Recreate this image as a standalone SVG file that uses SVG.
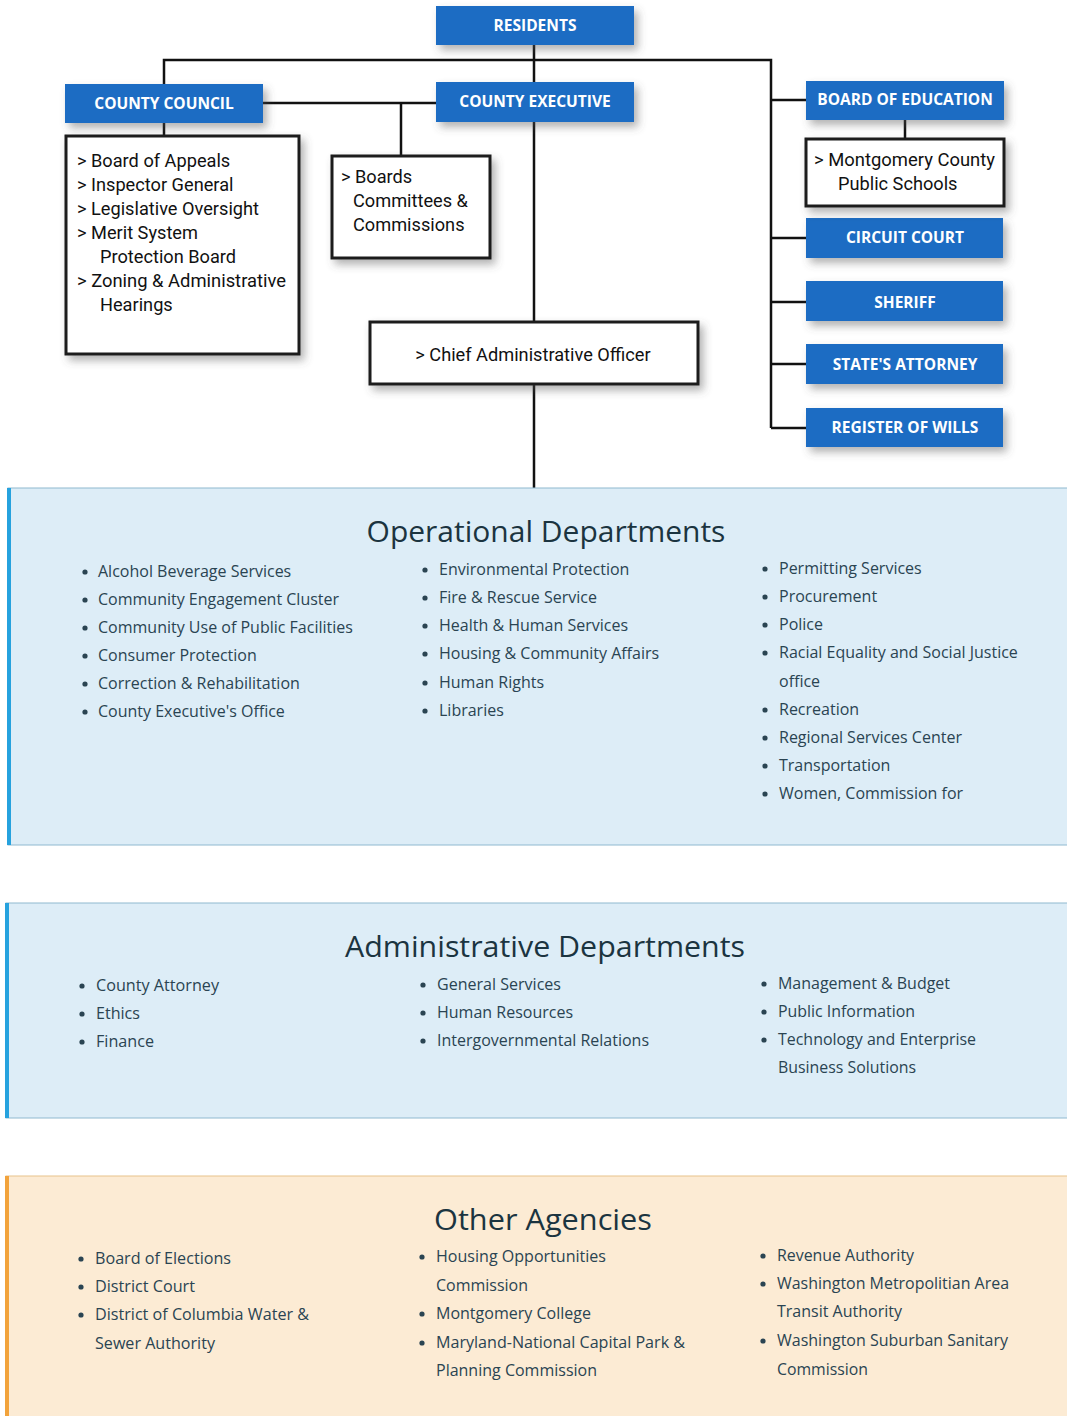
<svg xmlns="http://www.w3.org/2000/svg" width="1067" height="1416" viewBox="0 0 1067 1416">
  <defs>
    <filter id="shadow" x="-10%" y="-20%" width="130%" height="160%">
      <feDropShadow dx="4" dy="5" stdDeviation="4" flood-color="#555" flood-opacity="0.45"/>
    </filter>
  </defs>
  <style>
    .head rect { fill: #1f6cc3; filter: url(#shadow); }
    .head text { fill: #ffffff; font-family: "Open Sans", "Liberation Sans", sans-serif; font-weight: 700; font-size: 15.5px; text-anchor: middle; }
    .list rect { fill: #ffffff; stroke: #1a1a1a; stroke-width: 3; filter: url(#shadow); }
    .list text { fill: #111; font-family: Roboto, "Liberation Sans", sans-serif; font-size: 18.2px; }
    .wire { stroke: #111; stroke-width: 2.5; fill: none; }
    .panel-title { font-family: "Open Sans", "Liberation Sans", sans-serif; font-size: 30px; fill: #1b3440; text-anchor: middle; }
    .item { font-family: "Open Sans", "Liberation Sans", sans-serif; font-size: 16px; fill: #2a4452; }
    .dot { fill: #2a4452; }
  </style>

  <rect width="1067" height="1416" fill="#ffffff"/>

  <!-- connectors -->
  <g id="connectors" class="wire">
    <path d="M534 45 V322 M534 384 V488"/>
    <path d="M164 84 V60 H771 V428"/>
    <path d="M263 103 H436"/>
    <path d="M401 103 V157"/>
    <path d="M164 123 V136"/>
    <path d="M771 100 H806 M771 238 H806 M771 302 H806 M771 364 H806 M771 428 H806"/>
    <path d="M905 120 V139"/>
  </g>

  <!-- header boxes -->
  <g id="residents" class="head"><rect x="436" y="6" width="198" height="39"/><text x="535" y="31">RESIDENTS</text></g>
  <g id="county-council" class="head"><rect x="65" y="84" width="198" height="39"/><text x="164" y="109">COUNTY COUNCIL</text></g>
  <g id="county-executive" class="head"><rect x="436" y="82" width="198" height="40"/><text x="535" y="107">COUNTY EXECUTIVE</text></g>
  <g id="board-of-education" class="head"><rect x="806" y="81" width="198" height="39"/><text x="905" y="105">BOARD OF EDUCATION</text></g>
  <g id="circuit-court" class="head"><rect x="806" y="218" width="197" height="40"/><text x="905" y="243">CIRCUIT COURT</text></g>
  <g id="sheriff" class="head"><rect x="806" y="281" width="197" height="40"/><text x="905" y="308">SHERIFF</text></g>
  <g id="states-attorney" class="head"><rect x="806" y="344" width="197" height="40"/><text x="905" y="370">STATE'S ATTORNEY</text></g>
  <g id="register-of-wills" class="head"><rect x="806" y="408" width="197" height="39"/><text x="905" y="433">REGISTER OF WILLS</text></g>

  <!-- outlined list boxes -->
  <g id="council-offices" class="list">
    <rect x="66" y="136" width="233" height="218"/>
    <text x="77" y="167">&gt; Board of Appeals</text>
    <text x="77" y="191">&gt; Inspector General</text>
    <text x="77" y="215">&gt; Legislative Oversight</text>
    <text x="77" y="239">&gt; Merit System</text>
    <text x="100" y="263">Protection Board</text>
    <text x="77" y="287" textLength="209" lengthAdjust="spacingAndGlyphs">&gt; Zoning &amp; Administrative</text>
    <text x="100" y="311">Hearings</text>
  </g>
  <g id="boards" class="list">
    <rect x="332" y="156" width="158" height="102"/>
    <text x="341" y="183">&gt; Boards</text>
    <text x="353" y="207">Committees &amp;</text>
    <text x="353" y="231">Commissions</text>
  </g>
  <g id="cao" class="list">
    <rect x="370" y="322" width="328" height="62"/>
    <text x="533" y="361" text-anchor="middle">&gt; Chief Administrative Officer</text>
  </g>
  <g id="mcps" class="list">
    <rect x="806" y="139" width="198" height="67"/>
    <text x="814" y="166" textLength="181" lengthAdjust="spacingAndGlyphs">&gt; Montgomery County</text>
    <text x="838" y="190">Public Schools</text>
  </g>

  <!-- Operational Departments -->
  <g id="operational">
    <rect x="8" y="488" width="1062" height="357" fill="#ddedf7" stroke="#8fb9d0" stroke-width="1"/>
    <rect x="7" y="488" width="4" height="357" fill="#26a2de"/>
    <text class="panel-title" x="546" y="542">Operational Departments</text>
    <g class="dot">
      <circle cx="85" cy="572" r="2.6"/><circle cx="85" cy="600" r="2.6"/><circle cx="85" cy="628" r="2.6"/>
      <circle cx="85" cy="656" r="2.6"/><circle cx="85" cy="684" r="2.6"/><circle cx="85" cy="712" r="2.6"/>
      <circle cx="425" cy="570" r="2.6"/><circle cx="425" cy="598" r="2.6"/><circle cx="425" cy="626" r="2.6"/>
      <circle cx="425" cy="654" r="2.6"/><circle cx="425" cy="683" r="2.6"/><circle cx="425" cy="711" r="2.6"/>
      <circle cx="765" cy="569" r="2.6"/><circle cx="765" cy="597" r="2.6"/><circle cx="765" cy="625" r="2.6"/>
      <circle cx="765" cy="653" r="2.6"/><circle cx="765" cy="710" r="2.6"/><circle cx="765" cy="738" r="2.6"/>
      <circle cx="765" cy="766" r="2.6"/><circle cx="765" cy="794" r="2.6"/>
    </g>
    <g class="item">
      <text x="98" y="577">Alcohol Beverage Services</text>
      <text x="98" y="605">Community Engagement Cluster</text>
      <text x="98" y="633">Community Use of Public Facilities</text>
      <text x="98" y="661">Consumer Protection</text>
      <text x="98" y="689">Correction &amp; Rehabilitation</text>
      <text x="98" y="717">County Executive's Office</text>
      <text x="439" y="575">Environmental Protection</text>
      <text x="439" y="603">Fire &amp; Rescue Service</text>
      <text x="439" y="631">Health &amp; Human Services</text>
      <text x="439" y="659">Housing &amp; Community Affairs</text>
      <text x="439" y="688">Human Rights</text>
      <text x="439" y="716">Libraries</text>
      <text x="779" y="574">Permitting Services</text>
      <text x="779" y="602">Procurement</text>
      <text x="779" y="630">Police</text>
      <text x="779" y="658">Racial Equality and Social Justice</text>
      <text x="779" y="687">office</text>
      <text x="779" y="715">Recreation</text>
      <text x="779" y="743">Regional Services Center</text>
      <text x="779" y="771">Transportation</text>
      <text x="779" y="799">Women, Commission for</text>
    </g>
  </g>

  <!-- Administrative Departments -->
  <g id="administrative">
    <rect x="6" y="903" width="1064" height="215" fill="#ddedf7" stroke="#8fb9d0" stroke-width="1"/>
    <rect x="5" y="903" width="4" height="215" fill="#26a2de"/>
    <text class="panel-title" x="545" y="957" font-size="32" textLength="400" lengthAdjust="spacingAndGlyphs">Administrative Departments</text>
    <g class="dot">
      <circle cx="82" cy="986" r="2.6"/><circle cx="82" cy="1014" r="2.6"/><circle cx="82" cy="1042" r="2.6"/>
      <circle cx="423" cy="985" r="2.6"/><circle cx="423" cy="1013" r="2.6"/><circle cx="423" cy="1041" r="2.6"/>
      <circle cx="764" cy="984" r="2.6"/><circle cx="764" cy="1012" r="2.6"/><circle cx="764" cy="1040" r="2.6"/>
    </g>
    <g class="item">
      <text x="96" y="991" textLength="123" lengthAdjust="spacingAndGlyphs">County Attorney</text>
      <text x="96" y="1019" textLength="44" lengthAdjust="spacingAndGlyphs">Ethics</text>
      <text x="96" y="1047" textLength="58" lengthAdjust="spacingAndGlyphs">Finance</text>
      <text x="437" y="990" textLength="124" lengthAdjust="spacingAndGlyphs">General Services</text>
      <text x="437" y="1018" textLength="136" lengthAdjust="spacingAndGlyphs">Human Resources</text>
      <text x="437" y="1046" textLength="212" lengthAdjust="spacingAndGlyphs">Intergovernmental Relations</text>
      <text x="778" y="989" textLength="172" lengthAdjust="spacingAndGlyphs">Management &amp; Budget</text>
      <text x="778" y="1017" textLength="137" lengthAdjust="spacingAndGlyphs">Public Information</text>
      <text x="778" y="1045" textLength="198" lengthAdjust="spacingAndGlyphs">Technology and Enterprise</text>
      <text x="778" y="1073" textLength="138" lengthAdjust="spacingAndGlyphs">Business Solutions</text>
    </g>
  </g>

  <!-- Other Agencies -->
  <g id="other-agencies">
    <rect x="6" y="1176" width="1064" height="245" fill="#fcebd4" stroke="#e8c48c" stroke-width="1"/>
    <rect x="5" y="1176" width="4" height="245" fill="#f2a33c"/>
    <text class="panel-title" x="543" y="1230" font-size="32" textLength="218" lengthAdjust="spacingAndGlyphs">Other Agencies</text>
    <g class="dot">
      <circle cx="81" cy="1259" r="2.6"/><circle cx="81" cy="1287" r="2.6"/><circle cx="81" cy="1315" r="2.6"/>
      <circle cx="422" cy="1257" r="2.6"/><circle cx="422" cy="1314" r="2.6"/><circle cx="422" cy="1343" r="2.6"/>
      <circle cx="763" cy="1256" r="2.6"/><circle cx="763" cy="1284" r="2.6"/><circle cx="763" cy="1341" r="2.6"/>
    </g>
    <g class="item">
      <text x="95" y="1264" textLength="136" lengthAdjust="spacingAndGlyphs">Board of Elections</text>
      <text x="95" y="1292" textLength="100" lengthAdjust="spacingAndGlyphs">District Court</text>
      <text x="95" y="1320" textLength="214" lengthAdjust="spacingAndGlyphs">District of Columbia Water &amp;</text>
      <text x="95" y="1349" textLength="120" lengthAdjust="spacingAndGlyphs">Sewer Authority</text>
      <text x="436" y="1262" textLength="170" lengthAdjust="spacingAndGlyphs">Housing Opportunities</text>
      <text x="436" y="1291" textLength="92" lengthAdjust="spacingAndGlyphs">Commission</text>
      <text x="436" y="1319" textLength="155" lengthAdjust="spacingAndGlyphs">Montgomery College</text>
      <text x="436" y="1348" textLength="249" lengthAdjust="spacingAndGlyphs">Maryland-National Capital Park &amp;</text>
      <text x="436" y="1376" textLength="161" lengthAdjust="spacingAndGlyphs">Planning Commission</text>
      <text x="777" y="1261" textLength="137" lengthAdjust="spacingAndGlyphs">Revenue Authority</text>
      <text x="777" y="1289" textLength="232" lengthAdjust="spacingAndGlyphs">Washington Metropolitian Area</text>
      <text x="777" y="1317" textLength="125" lengthAdjust="spacingAndGlyphs">Transit Authority</text>
      <text x="777" y="1346" textLength="231" lengthAdjust="spacingAndGlyphs">Washington Suburban Sanitary</text>
      <text x="777" y="1375" textLength="91" lengthAdjust="spacingAndGlyphs">Commission</text>
    </g>
  </g>
</svg>
